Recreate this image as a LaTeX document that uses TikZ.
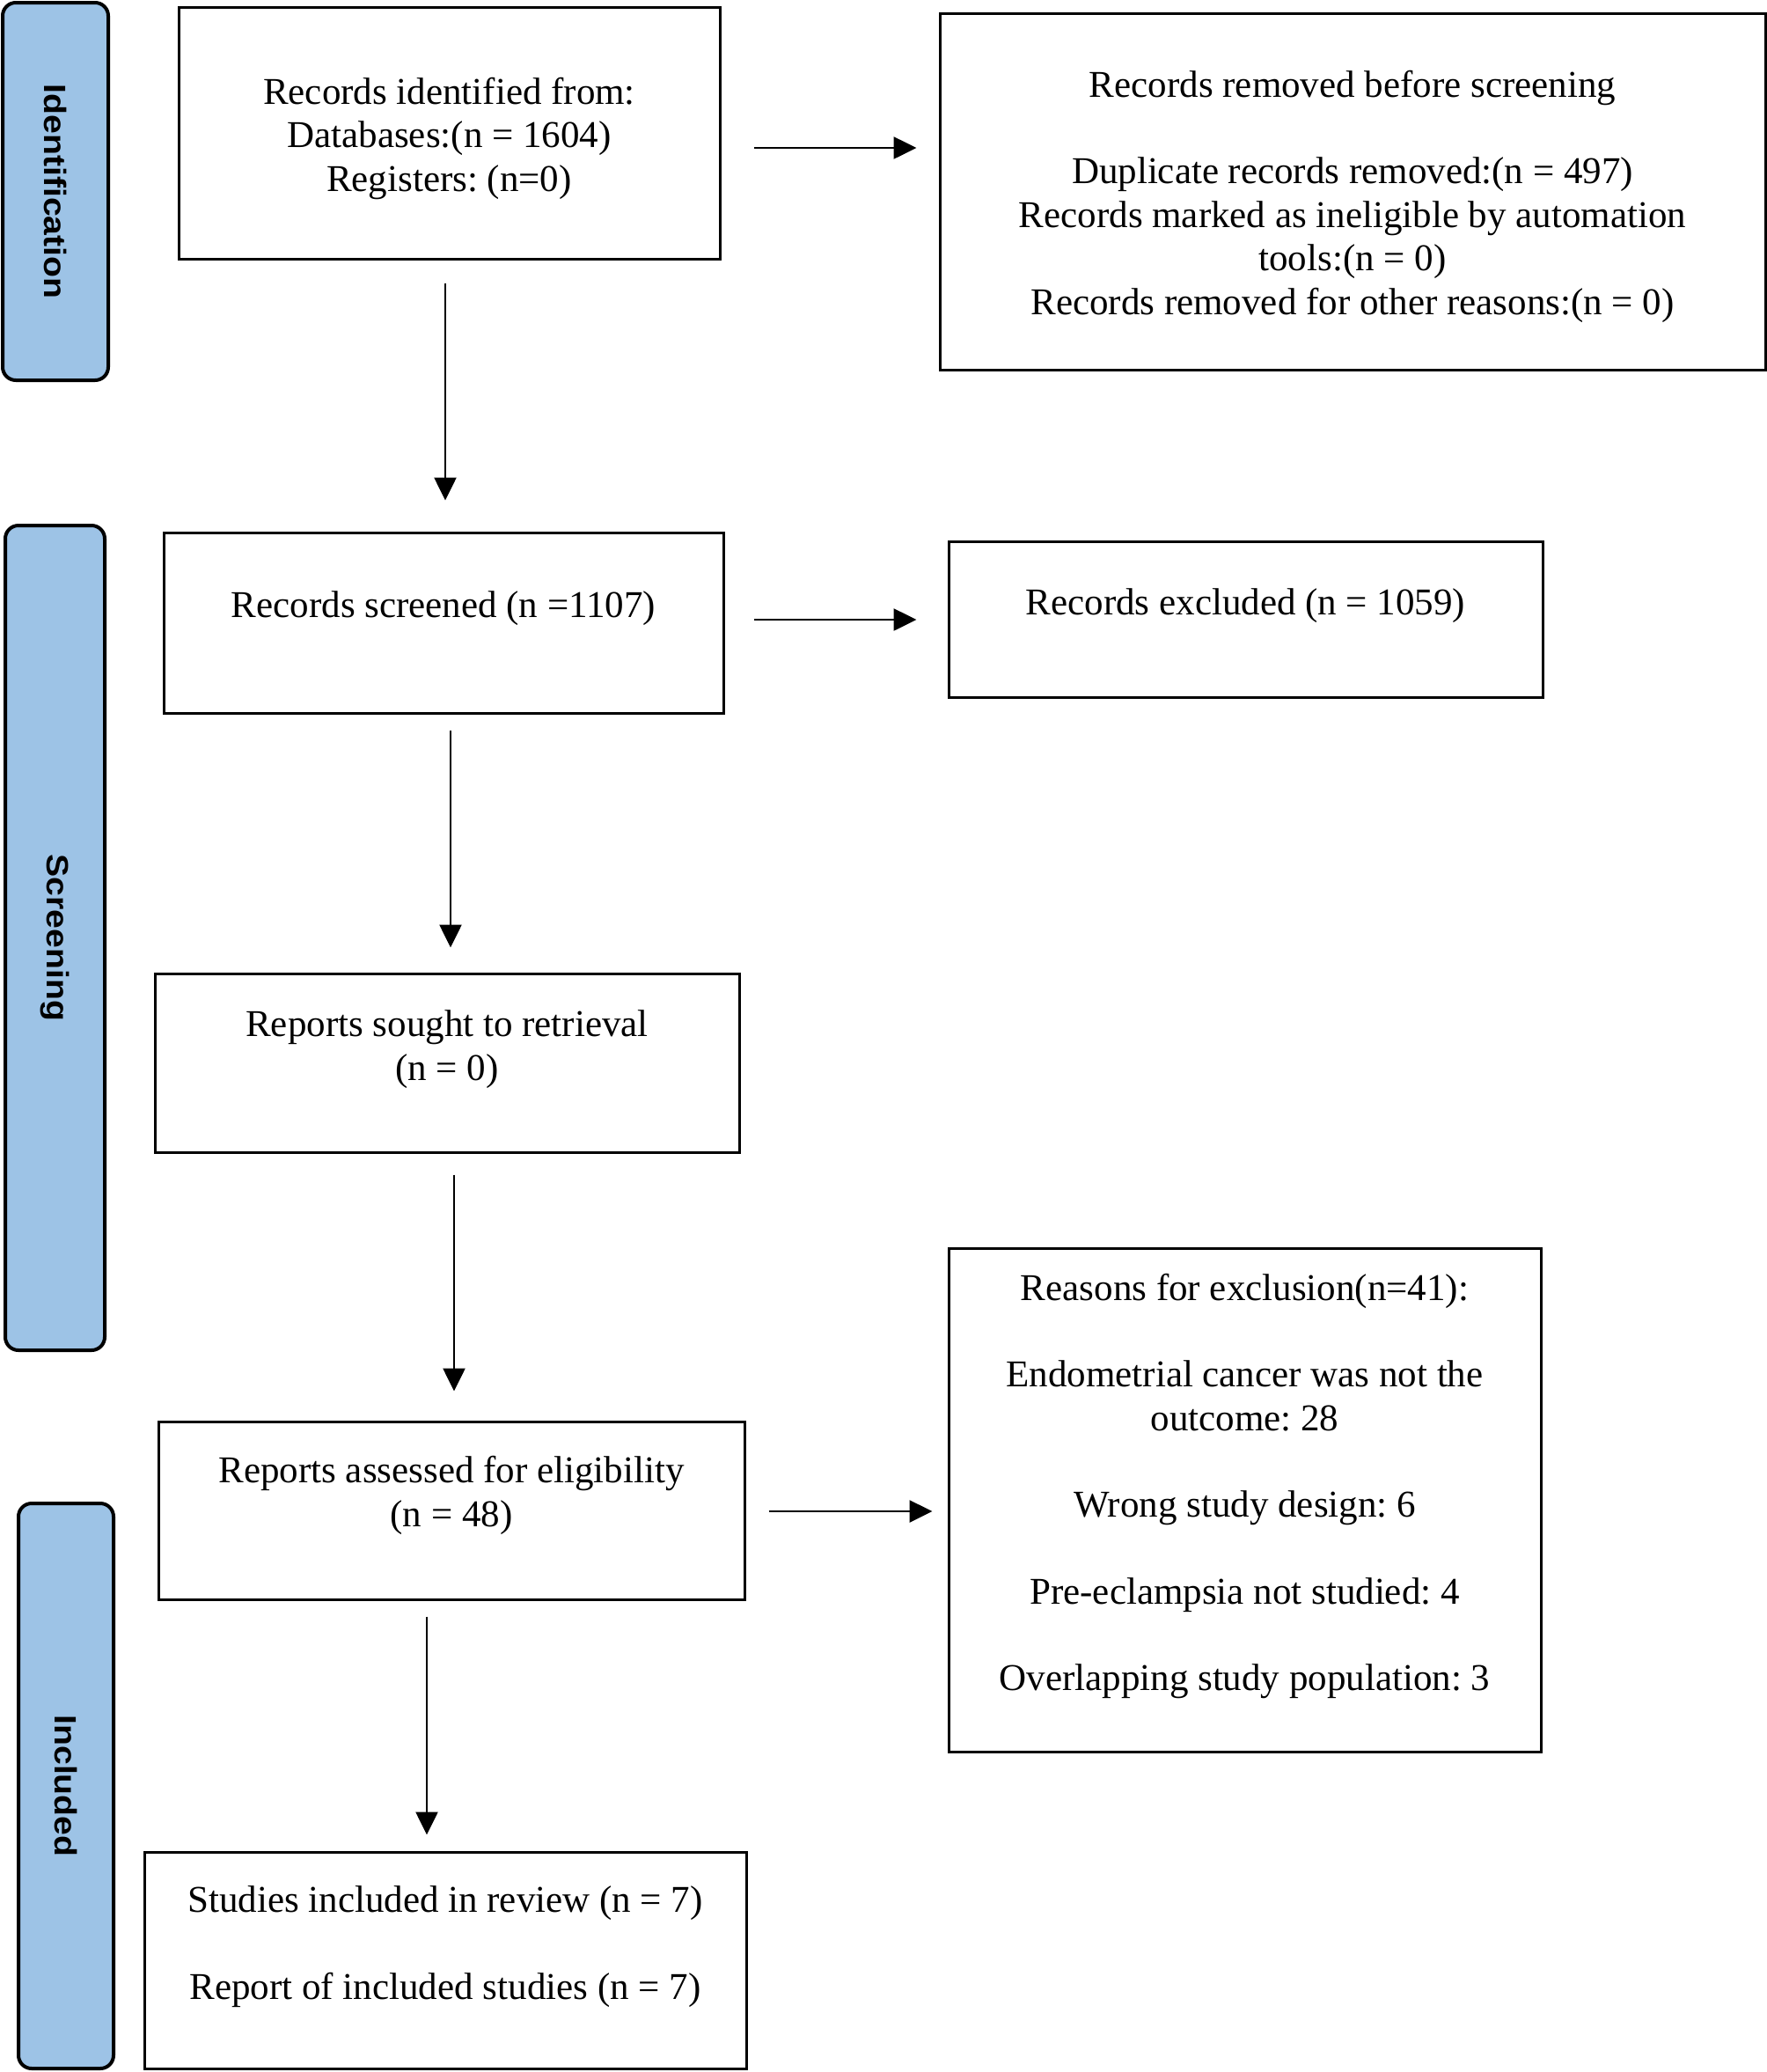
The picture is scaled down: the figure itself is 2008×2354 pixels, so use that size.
\documentclass[tikz,border=0pt]{standalone}
\usepackage{fontspec}
\setmainfont{Liberation Serif}
\newfontfamily\sidefont{Liberation Sans}[FakeStretch=1.12]
\usetikzlibrary{arrows.meta}
\definecolor{phaseblue}{RGB}{157,195,230}
\frenchspacing
\tikzset{
  box/.style={draw, line width=3pt, inner sep=0pt},
  txt/.style={align=center, inner sep=0pt, font=\fontsize{43}{49.5}\selectfont},
  phase/.style={draw, line width=4pt, rounded corners=15pt, fill=phaseblue, inner sep=0pt},
  phaselab/.style={rotate=-90, inner sep=0pt, font=\sidefont\bfseries\fontsize{35}{40}\selectfont},
  arr/.style={line width=2.6pt, -{Triangle[length=26pt,width=25pt]}},
}
\begin{document}
\begin{tikzpicture}[x=1pt, y=-1pt]
   \useasboundingbox (0,0) rectangle (2008,2354);
   % phase bars on the left
   \foreach \nm/\cx/\cy/\w/\h/\lab in {ident/63/217.5/120/429/Identification,
         screen/62.5/1065.5/113/937/Screening, incl/75/2029/108/642/Included} {
      \node[phase, minimum width=\w, minimum height=\h] (\nm) at (\cx, \cy) {};
      \node[phaselab] (\nm lab) at (\nm) {\lab};
   }
   % boxes
   \node[box, minimum width=615, minimum height=286] (b1) at (510.5, 151) {};
   \node[txt] (b1t) at (510.5, 157) {Records identified from:\\Databases:(n = 1604)\\Registers: (n=0)};
   \node[box, minimum width=938, minimum height=405] (b2) at (1537, 217.5) {};
   \node[txt] (b2t) at (1537, 223) {Records removed before screening\\[49pt]
      Duplicate records removed:(n = 497)\\Records marked as ineligible by automation\\
      tools:(n = 0)\\Records removed for other reasons:(n = 0)};
   \node[box, minimum width=636, minimum height=205] (b3) at (504, 707.5) {};
   \node[txt] (b3t) at (504, 691) {Records screened (n =1107)};
   \node[box, minimum width=675, minimum height=177] (b4) at (1415.5, 703.5) {};
   \node[txt] (b4t) at (1415.5, 688) {Records excluded (n = 1059)};
   \node[box, minimum width=664, minimum height=203] (b5) at (508, 1207.5) {};
   \node[txt] (b5t) at (508, 1192) {Reports sought to retrieval\\(n = 0)};
   \node[box, minimum width=666, minimum height=202] (b6) at (513, 1716) {};
   \node[txt] (b6t) at (513, 1699) {Reports assessed for eligibility\\(n = 48)};
   \node[box, minimum width=673, minimum height=572] (b7) at (1414.5, 1704) {};
   \node[txt] (b7t) at (1414.5, 1688.5) {Reasons for exclusion(n=41):\\[49pt]
      Endometrial cancer was not the\\outcome: 28\\[49pt]
      Wrong study design: 6\\[49pt]
      Pre-eclampsia not studied: 4\\[49pt]
      Overlapping study population: 3};
   \node[box, minimum width=684, minimum height=246] (b8) at (506, 2227) {};
   \node[txt] (b8t) at (506, 2211.5) {Studies included in review (n = 7)\\[49pt]Report of included studies (n = 7)};
   % arrows
   \draw[arr, shorten <=26pt, shorten >=35pt] ([xshift=-4.5pt]b1.south) -- ([xshift=2pt]b3.north);
   \draw[arr, shorten <=37pt, shorten >=25pt] ([yshift=-17pt]b1.east) -- ([yshift=49.5pt]b2.west);
   \draw[arr, shorten <=33pt, shorten >=35pt] ([yshift=3.5pt]b3.east) -- ([yshift=-0.5pt]b4.west);
   \draw[arr, shorten <=18pt, shorten >=28pt] ([xshift=8pt]b3.south) -- ([xshift=4pt]b5.north);
   \draw[arr, shorten <=24pt, shorten >=33pt] ([xshift=8pt]b5.south) -- ([xshift=3pt]b6.north);
   \draw[arr, shorten <=26pt, shorten >=17pt] ([yshift=-1pt]b6.east) -- ([yshift=-13pt]b7.west);
   \draw[arr, shorten <=18pt, shorten >=18pt] ([xshift=-28pt]b6.south) -- ([xshift=-21pt]b8.north);
\end{tikzpicture}
\end{document}
